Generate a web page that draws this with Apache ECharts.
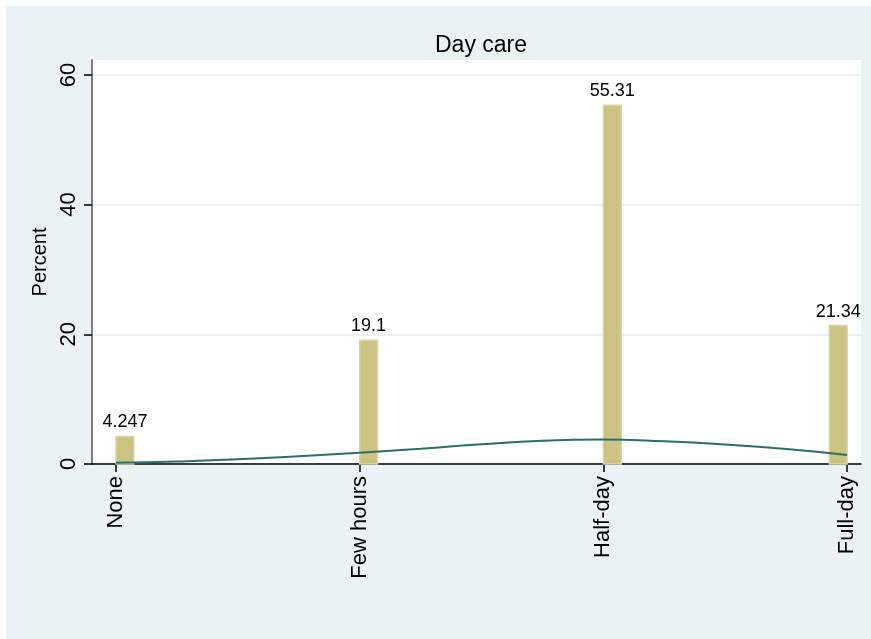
<!DOCTYPE html>
<html>
<head>
<meta charset="utf-8">
<script src="https://cdn.jsdelivr.net/npm/echarts@6/dist/echarts.min.js"></script>
<style>
  html, body { margin: 0; padding: 0; background: #fff; }
  #main { width: 871px; height: 639px; }
</style>
</head>
<body>
<div id="main"></div>
<script>
// categories sit at x = 1..4
var categories = ['None', 'Few hours', 'Half-day', 'Full-day'];
var tickValues = [1, 2, 3, 4];
// histogram bins: [start, end, percent]
var binStart = [1, 2, 3, 3.927];
var binEnd = [1.073, 2.073, 3.073, 4];
var percents = [4.247, 19.1, 55.31, 21.34];
// normal density overlay
var curveX = [1, 1.25, 1.5, 1.75, 2, 2.25, 2.5, 2.75, 3, 3.25, 3.5, 3.75, 4];
var curveY = [0.2, 0.4, 0.72, 1.2, 1.75, 2.35, 3.05, 3.6, 3.78, 3.5, 3.0, 2.3, 1.4];
var yTicks = [0, 20, 40, 60];

var myChart = echarts.init(document.getElementById('main'));

var binData = [];
for (var i = 0; i < percents.length; i++) {
  binData.push([binStart[i], binEnd[i], percents[i]]);
}
var curveData = [];
for (var j = 0; j < curveX.length; j++) {
  curveData.push([curveX[j], curveY[j]]);
}

var font = 'Liberation Sans, Arial, sans-serif';

var option = {
  animation: false,
  backgroundColor: '#fff',
  graphic: [{
    type: 'rect', z: -10, silent: true,
    shape: { x: 6, y: 6, width: 865, height: 633 },
    style: { fill: '#eaf2f3' }
  }, {
    type: 'rect', z: -9, silent: true,
    shape: { x: 92, y: 60, width: 769, height: 404 },
    style: { fill: '#fff' }
  }],
  title: {
    text: 'Day care',
    left: 476, top: 29, textAlign: 'center',
    textStyle: { fontFamily: font, fontSize: 23, fontWeight: 'normal', color: '#000' }
  },
  grid: { left: 92, right: 10, top: 60, bottom: 175 },
  xAxis: {
    type: 'value',
    min: 0.9015, max: 4.057,
    axisLine: { show: true, lineStyle: { color: '#000', width: 1.5 } },
    axisTick: { show: true, customValues: tickValues, length: 8, lineStyle: { color: '#000', width: 1.5 } },
    axisLabel: {
      customValues: tickValues, rotate: 90, margin: 12,
      fontFamily: font, fontSize: 22, color: '#000',
      formatter: function (v) { return categories[Math.round(v) - 1]; }
    },
    splitLine: { show: false }
  },
  yAxis: {
    type: 'value',
    min: 0, max: 62.3,
    name: 'Percent', nameLocation: 'middle', nameGap: 40, nameRotate: 90,
    nameTextStyle: { fontFamily: font, fontSize: 20, color: '#000' },
    axisLine: { show: true, lineStyle: { color: '#555', width: 1.5 } },
    axisTick: { show: true, customValues: yTicks, length: 8, lineStyle: { color: '#000', width: 1.5 } },
    axisLabel: {
      customValues: yTicks, rotate: 90, margin: 12,
      fontFamily: font, fontSize: 22, color: '#000'
    },
    splitLine: { show: true, lineStyle: { color: '#eaf2f3', width: 2 } }
  },
  series: [{
    type: 'custom',
    data: binData,
    encode: { x: [0, 1], y: 2 },
    renderItem: function (params, api) {
      var p0 = api.coord([api.value(0), api.value(2)]);
      var p1 = api.coord([api.value(1), 0]);
      var x = p0[0], y = p0[1], w = p1[0] - p0[0], h = p1[1] - p0[1];
      return {
        type: 'group',
        children: [{
          type: 'rect',
          shape: { x: x, y: y, width: w, height: h },
          style: { fill: '#cac381', stroke: '#d9d5a4', lineWidth: 1.5 }
        }, {
          type: 'text',
          x: x + w / 2, y: y - 5,
          style: {
            text: String(api.value(2)),
            fontFamily: font, fontSize: 18, fill: '#000',
            textAlign: 'center', textVerticalAlign: 'bottom'
          }
        }]
      };
    }
  }, {
    type: 'line',
    data: curveData,
    smooth: true,
    showSymbol: false,
    lineStyle: { color: '#2d6f66', width: 2 },
    z: 5
  }]
};

myChart.setOption(option);
</script>
</body>
</html>
